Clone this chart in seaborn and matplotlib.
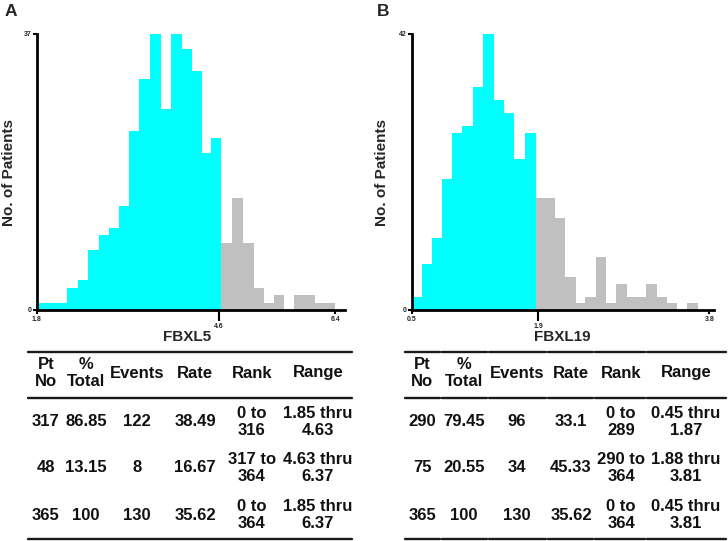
import numpy as np
import pandas as pd
import matplotlib
matplotlib.use("Agg")
import matplotlib.pyplot as plt
from matplotlib.lines import Line2D
import seaborn as sns

# ---------------- data ----------------
# Panel A: FBXL5 histogram (bin edges and patient counts)
a_low_edges = [1.80, 1.96, 2.11, 2.27, 2.43, 2.59, 2.75, 2.91, 3.06, 3.22, 3.38,
               3.55, 3.72, 3.87, 4.03, 4.19, 4.35, 4.49, 4.63]
a_low_counts = [1, 1, 1, 3, 4, 8, 10, 11, 14, 24, 31, 37, 27, 37, 35, 32, 21, 23]
a_high_edges = [4.63, 4.80, 4.97, 5.14, 5.30, 5.45, 5.61, 5.77, 5.92, 6.09, 6.25, 6.40]
a_high_counts = [9, 15, 9, 3, 1, 2, 0, 2, 2, 1, 1]
a_xticks = [1.8, 6.4]
a_cut_tick = 4.6
a_ymax = 37

# Panel B: FBXL19 histogram
b_low_edges = [0.50, 0.61, 0.72, 0.83, 0.94, 1.06, 1.18, 1.29, 1.41, 1.52, 1.63, 1.75, 1.88]
b_low_counts = [2, 7, 11, 20, 27, 28, 34, 42, 32, 30, 23, 27]
b_high_edges = [1.88, 1.98, 2.09, 2.20, 2.32, 2.42, 2.54, 2.65, 2.76, 2.88, 2.99,
                3.10, 3.22, 3.33, 3.44, 3.55, 3.67]
b_high_counts = [17, 17, 14, 5, 1, 2, 8, 1, 4, 2, 2, 4, 2, 1, 0, 1]
b_xticks = [0.5, 3.8]
b_cut_tick = 1.9
b_ymax = 42

# Tables
table_header = ["Pt\nNo", "%\nTotal", "Events", "Rate", "Rank", "Range"]
a_pt_no = ["317", "48", "365"]
a_pct_total = ["86.85", "13.15", "100"]
a_events = ["122", "8", "130"]
a_rate = ["38.49", "16.67", "35.62"]
a_rank = ["0 to\n316", "317 to\n364", "0 to\n364"]
a_range = ["1.85 thru\n4.63", "4.63 thru\n6.37", "1.85 thru\n6.37"]

b_pt_no = ["290", "75", "365"]
b_pct_total = ["79.45", "20.55", "100"]
b_events = ["96", "34", "130"]
b_rate = ["33.1", "45.33", "35.62"]
b_rank = ["0 to\n289", "290 to\n364", "0 to\n364"]
b_range = ["0.45 thru\n1.87", "1.88 thru\n3.81", "0.45 thru\n3.81"]

CYAN = "#00FFFF"
GRAY = "#C0C0C0"

# ---------------- style ----------------
sns.set_theme(style="white")
plt.rcParams['font.family'] = ['Liberation Sans', 'DejaVu Sans']

W, H = 728, 541
fig = plt.figure(figsize=(W / 100, H / 100), dpi=100)


def px(x, y):
    return x / W, 1 - y / H


def add_hist(rect, low_edges, low_counts, high_edges, high_counts,
             xlim, xticks, cut_tick, ymax, xlabel, xlab_x, ylab_x):
    left, top, right, bottom = rect
    ax = fig.add_axes([left / W, 1 - bottom / H, (right - left) / W, (bottom - top) / H])
    for edges, counts, col in [(low_edges, low_counts, CYAN), (high_edges, high_counts, GRAY)]:
        e = np.array(edges)
        df = pd.DataFrame({"x": (e[:-1] + e[1:]) / 2, "n": counts})
        sns.histplot(data=df, x="x", weights="n", bins=list(edges), color=col, alpha=1,
                     linewidth=0, edgecolor=col, ax=ax, zorder=1)
    ax.set_xlim(*xlim)
    ax.set_ylim(0, ymax)
    for s in ["top", "right"]:
        ax.spines[s].set_visible(False)
    for s in ["left", "bottom"]:
        ax.spines[s].set_linewidth(2)
        ax.spines[s].set_color("black")
        ax.spines[s].set_zorder(3)
    ax.set_xticks(xticks, labels=[f"{t:g}" for t in xticks])
    ax.set_xticks([cut_tick], labels=[f"{cut_tick:g}"], minor=True)
    ax.set_yticks([0, ymax], labels=["0", str(ymax)])
    ax.tick_params(axis="both", which="major", length=3, width=1.5, color="black",
                   labelsize=5, pad=1, direction="out", bottom=True, left=True)
    ax.tick_params(axis="x", which="minor", length=8, width=1.5, color="black",
                   labelsize=5, pad=1, direction="out", bottom=True)
    for lab in ax.get_xticklabels() + ax.get_yticklabels() + ax.get_xticklabels(minor=True):
        lab.set_fontweight("bold")
    ax.set_xlabel(xlabel, fontsize=11, fontweight="bold")
    ax.xaxis.set_label_coords(xlab_x, (bottom - 337) / (bottom - top))
    ax.xaxis.label.set_verticalalignment("center")
    ax.set_ylabel("No. of Patients", fontsize=11, fontweight="bold")
    ax.yaxis.set_label_coords(ylab_x, (bottom - 172) / (bottom - top))
    ax.yaxis.label.set_verticalalignment("center")
    ax.grid(False)
    return ax


add_hist((37, 34, 345, 310), a_low_edges, a_low_counts, a_high_edges, a_high_counts,
         (1.8, 6.55), a_xticks, a_cut_tick, a_ymax, "FBXL5", 0.487, -0.091)
add_hist((412, 34, 714, 310), b_low_edges, b_low_counts, b_high_edges, b_high_counts,
         (0.5, 3.85), b_xticks, b_cut_tick, b_ymax, "FBXL19", 0.497, -0.099)

fig.text(*px(11, 11), "A", fontsize=12.5, fontweight="bold", ha="center", va="center")
fig.text(*px(383, 11), "B", fontsize=12.5, fontweight="bold", ha="center", va="center")


def hline(x0, x1, y):
    fx0, fy = px(x0, y)
    fx1, _ = px(x1, y)
    fig.add_artist(Line2D([fx0, fx1], [fy, fy], color="#1a1a1a", lw=1.7,
                          transform=fig.transFigure))


def add_table(col_x, segments, columns):
    row_y = [373, 422, 468, 515]
    for y in [352, 398, 539]:
        for x0, x1 in segments:
            hline(x0, x1, y)
    for ci, cx in enumerate(col_x):
        cells = [table_header[ci]] + list(columns[ci])
        for ri, txt in enumerate(cells):
            fig.text(*px(cx, row_y[ri]), txt, fontsize=12, fontweight="bold",
                     ha="center", va="center", multialignment="center", linespacing=1.15,
                     color="#111111")


add_table([46, 86, 137, 195, 252, 318], [(28, 352)],
          [a_pt_no, a_pct_total, a_events, a_rate, a_rank, a_range])
add_table([422, 464, 517, 571, 621, 686],
          [(405, 440), (442, 487), (489, 546), (548, 593), (595, 645), (647, 726)],
          [b_pt_no, b_pct_total, b_events, b_rate, b_rank, b_range])

fig.savefig("out.png", dpi=100)
